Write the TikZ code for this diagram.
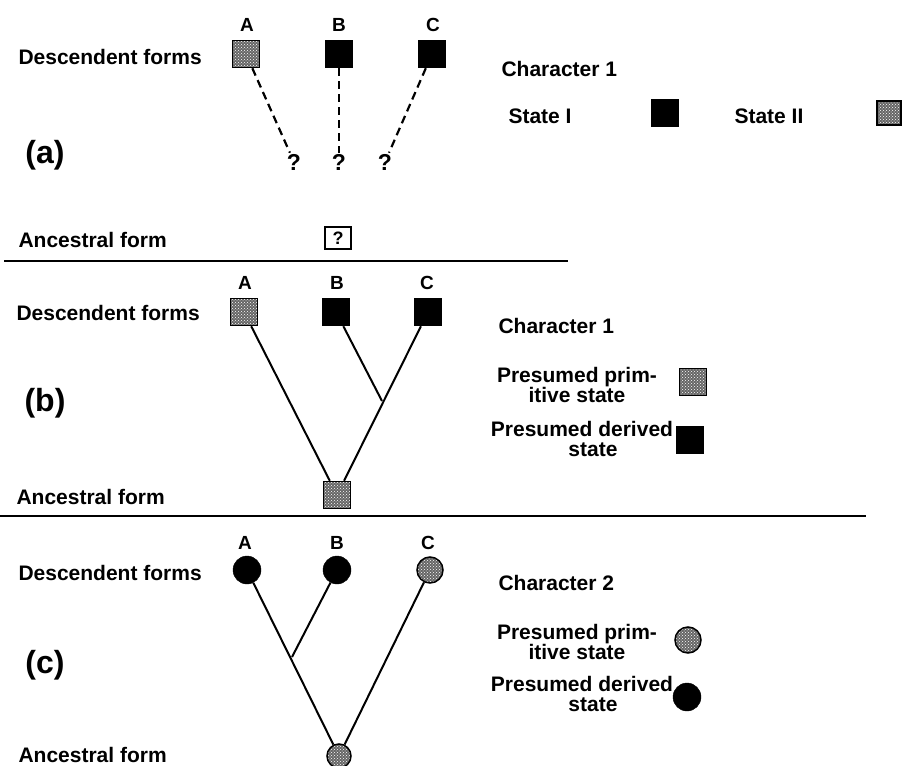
\documentclass[tikz,border=0pt]{standalone}
\usepackage{fontspec}
\setmainfont{Liberation Sans}
\usetikzlibrary{patterns}

\begin{document}
\begin{tikzpicture}[x=1pt,y=-1pt,
  txt/.style={font=\bfseries\fontsize{21}{20}\selectfont},
  lbl/.style={font=\bfseries\fontsize{19}{20}\selectfont},
  tag/.style={font=\bfseries\fontsize{32}{34}\selectfont},
  box/.style={draw,line width=1.5pt,minimum size=27pt,inner sep=0pt},
  blackbox/.style={box,fill=black},
  dotbox/.style={box,preaction={fill=black!60},pattern=crosshatch dots,pattern color=white},
  dotdisc/.style={circle,draw,line width=1.5pt,minimum size=26pt,inner sep=0pt,
    preaction={fill=black!60},pattern=crosshatch dots,pattern color=white},
  blackdisc/.style={circle,draw,fill=black,minimum size=28pt,inner sep=0pt},
  branch/.style={line width=2pt},
  guess/.style={line width=2.2pt,dash pattern=on 8pt off 5pt}]

\useasboundingbox (0,0) rectangle (903,766);

% (a)
\node [txt,anchor=west] (descA) at (15,57) {Descendent forms};
\node [txt,anchor=west] (ancA) at (15,240) {Ancestral form};
\node [tag] (tagA) at (45,155) {(a)};
\node [lbl] (labAa) at (247,25) {A};
\node [lbl] (labAb) at (339,25) {B};
\node [lbl] (labAc) at (433,25) {C};
\node [dotbox] (aA) at (246,54) {};
\node [blackbox] (aB) at (339,54) {};
\node [blackbox] (aC) at (432,54) {};
\node [font=\bfseries\fontsize{23}{24}\selectfont,inner sep=1pt] (qA) at (294,162) {?};
\node [font=\bfseries\fontsize{23}{24}\selectfont,inner sep=1pt] (qB) at (339,162) {?};
\node [font=\bfseries\fontsize{23}{24}\selectfont,inner sep=1pt] (qC) at (385,162) {?};
\draw [guess] (aA) -- (qA) ;
\draw [guess] (aB) -- (qB) ;
\draw [guess] (aC) -- (qC) ;
\node [draw,line width=1.5pt,minimum width=26pt,minimum height=22pt,inner sep=0pt,
  font=\bfseries\fontsize{18}{18}\selectfont] (ancq) at (338,238) {?};

\node [txt,anchor=west] (charA) at (498,69) {Character 1};
\node [txt,anchor=west] (stI) at (505,116) {State I};
\node [blackbox] (keyI) at (665,113) {};
\node [txt,anchor=west] (stII) at (731,116) {State II};
\node [dotbox,minimum size=24pt] (keyII) at (889,113) {};

\draw [line width=2pt] (4,261) -- (568,261) ;

% (b)
\node [txt,anchor=west] (descB) at (13,313) {Descendent forms};
\node [txt,anchor=west] (ancB) at (13,497) {Ancestral form};
\node [tag] (tagB) at (45,403) {(b)};
\node [lbl] (labBa) at (245,283) {A};
\node [lbl] (labBb) at (337,283) {B};
\node [lbl] (labBc) at (427,283) {C};
\node [dotbox] (bA) at (244,312) {};
\node [blackbox] (bB) at (336,312) {};
\node [blackbox] (bC) at (428,312) {};
\node [dotbox] (bR) at (337,495) {};
\coordinate (jb) at (382,401);
\draw [branch] (bA) -- (bR) ;
\draw [branch] (bC) -- (bR) ;
\draw [branch] (bB) -- (jb) ;

\node [txt,anchor=west] (charB) at (495,326) {Character 1};
\node [txt,align=center] (primB) at (577,385) {Presumed prim-\\itive state};
\node [dotbox] (keyPB) at (693,382) {};
\node [txt,align=center] (derB) at (582,439) {Presumed derived\\\hspace*{22pt}state};
\node [blackbox] (keyDB) at (690,440) {};

\draw [line width=2pt] (0,516) -- (866,516) ;

% (c)
\node [txt,anchor=west] (descC) at (15,573) {Descendent forms};
\node [txt,anchor=west] (ancC) at (15,755) {Ancestral form};
\node [tag] (tagC) at (45,665) {(c)};
\node [lbl] (labCa) at (245,543) {A};
\node [lbl] (labCb) at (337,543) {B};
\node [lbl] (labCc) at (428,543) {C};
\node [blackdisc] (cA) at (247,570) {};
\node [blackdisc] (cB) at (337,570) {};
\node [dotdisc] (cC) at (430,570) {};
\node [dotdisc,minimum size=24pt] (cR) at (339,756) {};
\coordinate (jc) at (292,657);
\draw [branch] (cA) -- (cR) ;
\draw [branch] (cC) -- (cR) ;
\draw [branch] (cB) -- (jc) ;

\node [txt,anchor=west] (charC) at (495,583) {Character 2};
\node [txt,align=center] (primC) at (577,642) {Presumed prim-\\itive state};
\node [dotdisc] (keyPC) at (688,640) {};
\node [txt,align=center] (derC) at (582,694) {Presumed derived\\\hspace*{22pt}state};
\node [blackdisc] (keyDC) at (687,697) {};

\end{tikzpicture}
\end{document}
